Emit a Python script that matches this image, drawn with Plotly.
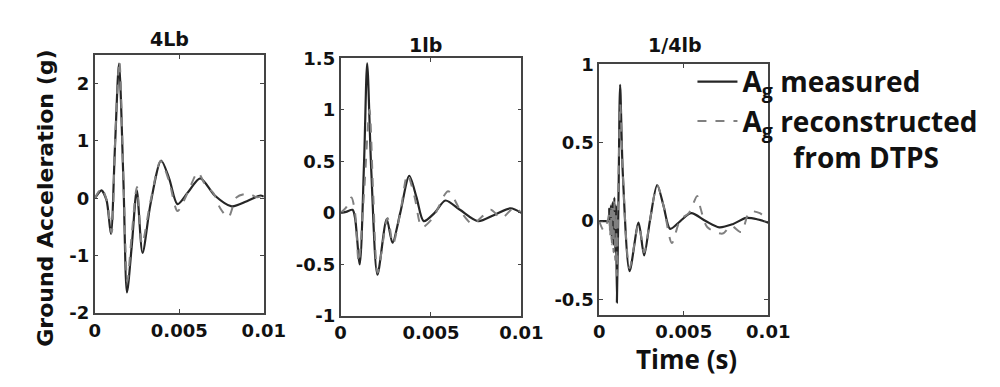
import plotly.graph_objects as go

# ---------------- data ----------------
panel_titles = ["4Lb", "1lb", "1/4lb"]
x_tick_vals = [0, 0.005, 0.01]
x_tick_text = ["0", "0.005", "0.01"]

# 4 lb
t_4lb_meas = [0, 0.0002, 0.0004, 0.0007, 0.00096, 0.0012, 0.00144, 0.0017, 0.00191, 0.0022,
              0.00249, 0.00283, 0.0033, 0.00393, 0.0044, 0.0049, 0.0055, 0.00624, 0.0071,
              0.0081, 0.009, 0.0098, 0.01]
a_4lb_meas = [0, 0.08, 0.14, -0.03, -0.62, 0.9, 2.35, 0.3, -1.64, -0.8,
              0.14, -0.95, -0.1, 0.66, 0.35, -0.1, 0.1, 0.35, 0.05,
              -0.14, -0.05, 0.05, 0.03]
t_4lb_rec = [0, 0.0002, 0.0004, 0.0007, 0.001, 0.0012, 0.00146, 0.0017, 0.00193, 0.0022,
             0.0025, 0.0028, 0.0033, 0.0039, 0.0044, 0.0049, 0.0055, 0.0061, 0.0066, 0.007,
             0.0074, 0.0079, 0.0084, 0.0091, 0.0096, 0.01]
a_4lb_rec = [0, 0.1, 0.18, -0.02, -0.6, 0.95, 2.4, 0.35, -1.45, -0.6,
             0.2, -0.8, -0.05, 0.65, 0.3, -0.22, 0.1, 0.45, 0.2, 0.1,
             -0.16, -0.33, 0.02, 0.08, 0.02, 0.05]

# 1 lb
t_1lb_meas = [0, 0.0003, 0.00066, 0.0008, 0.00106, 0.0013, 0.00147, 0.0017, 0.00204, 0.00255,
              0.00287, 0.0033, 0.0038, 0.0042, 0.0046, 0.0052, 0.0058, 0.0066, 0.0076, 0.0085,
              0.0094, 0.01]
a_1lb_meas = [0, 0.01, 0.03, -0.05, -0.5, 0.5, 1.45, 0.4, -0.6, -0.06,
              -0.29, 0.0, 0.36, 0.15, -0.08, 0.0, 0.12, 0.03, -0.08, -0.02,
              0.045, 0.0]
t_1lb_rec = [0, 0.0003, 0.0006, 0.0008, 0.001, 0.0013, 0.0016, 0.0018, 0.00205, 0.0026,
             0.0029, 0.0033, 0.0037, 0.0041, 0.0045, 0.0051, 0.00595, 0.0067, 0.0073, 0.0078,
             0.0083, 0.0089, 0.0096, 0.01]
a_1lb_rec = [0, 0.05, 0.15, 0.0, -0.48, 0.2, 1.0, 0.2, -0.58, -0.05,
             -0.3, 0.0, 0.37, 0.15, -0.14, -0.05, 0.21, 0.0, -0.11, -0.04,
             0.03, -0.05, 0.05, 0.0]

# 1/4 lb
t_qlb_meas = [0, 0.0003, 0.00055, 0.0006, 0.00065, 0.0007, 0.00075, 0.0008, 0.00085, 0.0009,
              0.00095, 0.001, 0.00105, 0.00115, 0.00124, 0.0014, 0.0018, 0.00233, 0.00266, 0.003,
              0.00343, 0.0038, 0.0042, 0.0048, 0.00544, 0.0063, 0.0071, 0.0079, 0.0087, 0.0094,
              0.01]
a_qlb_meas = [0, 0, 0.0, 0.08, -0.06, 0.1, -0.12, 0.12, -0.15, 0.15,
              -0.2, 0.1, -0.52, 0.2, 0.87, 0.3, -0.32, -0.01, -0.22, 0.0,
              0.23, 0.1, -0.05, 0.0, 0.05, 0.0, -0.04, -0.02, 0.02, 0.01,
              -0.01]
t_qlb_rec = [0, 0.00027, 0.0005, 0.0006, 0.00065, 0.0007, 0.00075, 0.0008, 0.00085, 0.0009,
             0.00095, 0.001, 0.00105, 0.00115, 0.00125, 0.0014, 0.0018, 0.00233, 0.00266, 0.003,
             0.00343, 0.0038, 0.0043, 0.0048, 0.0053, 0.0058, 0.006, 0.0064, 0.0073, 0.0078,
             0.0084, 0.0089, 0.0095, 0.01]
a_qlb_rec = [0, -0.06, 0.0, 0.05, -0.1, 0.08, -0.15, 0.1, -0.2, 0.12,
             -0.25, 0.05, -0.35, 0.3, 0.75, 0.3, -0.3, -0.02, -0.2, 0.0,
             0.23, 0.1, -0.14, 0.01, 0.05, 0.16, 0.08, -0.04, -0.08, -0.03,
             -0.07, 0.06, 0.05, 0.0]

y_ranges = [[-2, 2.5], [-1, 1.5], [-0.6, 1]]
y_tick_vals = [[-2, -1, 0, 1, 2], [-1, -0.5, 0, 0.5, 1, 1.5], [-0.5, 0, 0.5, 1]]
y_tick_text = [["-2", "-1", "0", "1", "2"], ["-1", "-0.5", "0", "0.5", "1", "1.5"],
               ["-0.5", "0", "0.5", "1"]]

series = [
    (t_4lb_meas, a_4lb_meas, t_4lb_rec, a_4lb_rec),
    (t_1lb_meas, a_1lb_meas, t_1lb_rec, a_1lb_rec),
    (t_qlb_meas, a_qlb_meas, t_qlb_rec, a_qlb_rec),
]

# ---------------- layout geometry (pixels in a 1000x387 page) ----------------
W, H = 1000, 387
boxes = [(83, 257, 38, 311), (336, 522, 41.5, 314), (602, 776, 48, 313)]

fig = go.Figure()
meas_name = "A<sub>g</sub> measured"
rec_name = "A<sub>g</sub> reconstructed<br>" + "\u00a0" * 7 + "from DTPS"

for i, (tm, am, tr, ar) in enumerate(series):
    xa = "x" if i == 0 else f"x{i+1}"
    ya = "y" if i == 0 else f"y{i+1}"
    fig.add_trace(go.Scatter(x=tm, y=am, mode="lines", xaxis=xa, yaxis=ya,
                             line=dict(color="#262626", width=2.2, shape="spline", smoothing=0.8),
                             name=meas_name, legendgroup="m", showlegend=(i == 2)))
    fig.add_trace(go.Scatter(x=tr, y=ar, mode="lines", xaxis=xa, yaxis=ya,
                             line=dict(color="#808080", width=2, dash="dash", shape="spline", smoothing=0.8),
                             name=rec_name, legendgroup="r", showlegend=(i == 2)))

tickfont = dict(family="DejaVu Sans", size=18, color="#111", weight="bold")
axis_common = dict(showline=True, mirror="ticks", linecolor="#444", linewidth=1.6,
                   ticks="inside", ticklen=4, tickcolor="#444", tickwidth=1.2,
                   showgrid=False, zeroline=False, tickfont=tickfont)

layout = dict(width=W, height=H, margin=dict(l=0, r=0, t=0, b=0),
              paper_bgcolor="white", plot_bgcolor="white")
for i, (x0, x1, y0, y1) in enumerate(boxes):
    sfx = "" if i == 0 else str(i + 1)
    layout["xaxis" + sfx] = dict(domain=[x0 / W, x1 / W], range=[0, 0.01],
                                 tickvals=x_tick_vals, ticktext=x_tick_text,
                                 anchor="y" + sfx, **axis_common)
    layout["yaxis" + sfx] = dict(domain=[1 - y1 / H, 1 - y0 / H], range=y_ranges[i],
                                 tickvals=y_tick_vals[i], ticktext=y_tick_text[i],
                                 anchor="x" + sfx, **axis_common)
fig.update_layout(**layout)

title_pos = [(160, 21), (423, 27), (680, 28)]
annotations = []
for (cx, cy), txt in zip(title_pos, panel_titles):
    annotations.append(dict(text=txt, x=cx / W, y=1 - cy / H, xref="paper", yref="paper",
                            showarrow=False, xanchor="center", yanchor="middle",
                            font=dict(family="DejaVu Sans", size=19, color="#111", weight="bold")))
annotations.append(dict(text="Ground Acceleration (g)", x=33 / W, y=1 - 190 / H, xref="paper", yref="paper",
                        showarrow=False, textangle=-90, xanchor="center", yanchor="middle",
                        font=dict(family="DejaVu Sans", size=22, color="#111", weight="bold")))
annotations.append(dict(text="Time (s)", x=692 / W, y=1 - 360 / H, xref="paper", yref="paper",
                        showarrow=False, xanchor="center", yanchor="middle",
                        font=dict(family="Open Sans", size=26, color="#111", weight="bold")))
fig.update_layout(annotations=annotations)

fig.update_layout(legend=dict(x=698 / W, y=1 - 40 / H, xanchor="left", yanchor="top",
                              bgcolor="rgba(0,0,0,0)", borderwidth=0, valign="top",
                              traceorder="grouped", tracegroupgap=0, itemwidth=40,
                              font=dict(family="Open Sans", size=28, color="#111", weight="bold")))

fig.write_html("out.html")
